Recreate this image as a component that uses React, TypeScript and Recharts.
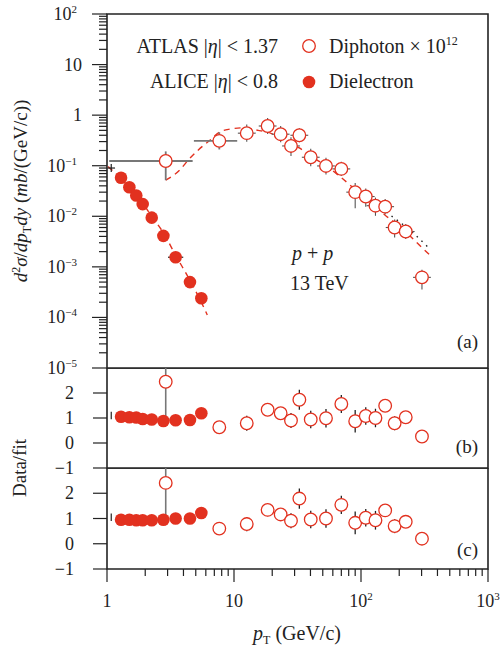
import React from "react";
import { ComposedChart, Scatter, Line, XAxis, YAxis, ErrorBar, ReferenceArea } from "recharts";

const RED = "#e2311f";
const INK = "#222";
const FONT = "'Liberation Serif', 'Times New Roman', serif";

// ALICE dielectron |eta| < 0.8
const dieX = [1.29, 1.5, 1.7, 1.91, 2.25, 2.78, 3.47, 4.5, 5.53];
const dieY = [0.058, 0.0376, 0.0257, 0.0174, 0.0094, 0.0041, 0.00155, 0.0005, 0.00024];
const dieXErr = [0, 0, 0, 0, 0, 0, 0.06, 0, 0]; // in decades
const dieRatioB = [1.05, 1.03, 1.02, 0.96, 0.94, 0.88, 0.91, 0.92, 1.19];
const dieRatioC = [0.95, 0.95, 0.93, 0.93, 0.93, 0.95, 1.0, 1.0, 1.22];
// lowest bin: only the error bars show
const dieEdgeX = [1.08];
const dieEdgeY = [0.09];
const dieEdgeRatioB = [1.1];
const dieEdgeRatioC = [1.05];

// ATLAS diphoton x 1e12, |eta| < 1.37
const phoX = [2.9, 7.66, 12.6, 18.4, 23.3, 28.1, 32.7, 40.2, 53, 70, 90, 109, 130, 155, 184, 225, 302];
const phoY = [0.124, 0.31, 0.44, 0.61, 0.42, 0.246, 0.4, 0.147, 0.099, 0.0865, 0.03, 0.0246, 0.0162, 0.0155, 0.006, 0.005, 0.00062];
const phoErrUp = [0.19, 0.17, 0.17, 0.16, 0.16, 0.17, 0.14, 0.17, 0.16, 0.14, 0.18, 0.16, 0.16, 0.15, 0.16, 0.15, 0.15];
const phoErrDn = [0.38, 0.17, 0.17, 0.16, 0.16, 0.2, 0.14, 0.18, 0.17, 0.14, 0.32, 0.2, 0.2, 0.15, 0.2, 0.15, 0.24];
const phoXLo = [0.445, 0.2, 0.07, 0.07, 0.07, 0.07, 0.07, 0.07, 0.07, 0.07, 0.07, 0.07, 0.07, 0.07, 0.07, 0.07, 0.07];
const phoXHi = [0.212, 0.141, 0.07, 0.07, 0.07, 0.07, 0.07, 0.07, 0.07, 0.07, 0.07, 0.07, 0.07, 0.07, 0.07, 0.07, 0.07];
const phoRatioB = [2.45, 0.63, 0.79, 1.33, 1.19, 0.9, 1.73, 0.94, 0.99, 1.56, 0.87, 1.08, 1.0, 1.49, 0.79, 1.03, 0.26];
const phoRatioC = [2.41, 0.6, 0.78, 1.34, 1.16, 0.91, 1.79, 0.96, 1.0, 1.54, 0.83, 1.03, 0.93, 1.32, 0.7, 0.87, 0.2];
const phoRatioErrB = [1.51, 0.12, 0.3, 0.25, 0.22, 0.3, 0.4, 0.35, 0.37, 0.36, 0.45, 0.35, 0.37, 0.25, 0.28, 0.12, 0.1];
const phoRatioErrC = [1.34, 0.12, 0.28, 0.25, 0.22, 0.3, 0.4, 0.35, 0.37, 0.36, 0.45, 0.35, 0.37, 0.25, 0.28, 0.12, 0.1];

// fits
const dieFitX = [1.02, 1.29, 1.5, 1.7, 1.91, 2.25, 2.78, 3.47, 4.5, 5.53, 6.16];
const dieFitY = [0.096, 0.055, 0.0365, 0.0252, 0.018, 0.01, 0.0047, 0.0017, 0.00054, 0.0002, 0.000112];
const phoFitX = [2.9, 3.76, 4.37, 5.24, 6.47, 7.66, 9.3, 11.8, 15.5, 18.4, 23.3, 28, 32.7, 40, 53, 70, 90, 109, 130, 155, 184, 225, 302, 349];
const phoFitY = [0.052, 0.083, 0.13, 0.205, 0.32, 0.46, 0.53, 0.56, 0.5, 0.46, 0.35, 0.27, 0.225, 0.156, 0.1, 0.058, 0.034, 0.023, 0.016, 0.0105, 0.0076, 0.0049, 0.0024, 0.0017];
const altFitX = [109, 169, 250, 340];
const altFitY = [0.025, 0.0107, 0.005, 0.0024];

const xMajor = [1, 10, 100, 1000];
const yMajor = [1e-5, 1e-4, 1e-3, 1e-2, 0.1, 1, 10, 100];
const ratioTicks = [-1, 0, 1, 2];

const minorsOf = (majors: number[]) => {
  const out: number[] = [];
  majors.forEach((m, i) => {
    out.push(m);
    if (i < majors.length - 1) for (let k = 2; k < 10; k++) out.push(m * k);
  });
  return out;
};
const xTicks = minorsOf(xMajor);
const yTicks = minorsOf(yMajor);

const decErr = (v: number, up: number, dn: number) => [v - v / Math.pow(10, dn), v * Math.pow(10, up) - v];
const isMajor = (v: number) => Math.abs(Math.log10(v) - Math.round(Math.log10(v))) < 1e-6;
const expText = (e: number) => (e < 0 ? "\u2212" + -e : String(e));

const dieTop = dieX.map((x, i) => ({ x, y: dieY[i], ex: decErr(x, dieXErr[i], dieXErr[i]) }));
const dieEdgeTop = dieEdgeX.map((x, i) => ({ x, y: dieEdgeY[i], ex: decErr(x, 0.03, 0.03), ey: decErr(dieEdgeY[i], 0.08, 0.08) }));
const phoTop = phoX.map((x, i) => ({
  x,
  y: phoY[i],
  ey: decErr(phoY[i], phoErrUp[i], phoErrDn[i]),
  ex: decErr(x, phoXHi[i], phoXLo[i]),
}));
const toFit = (xs: number[], ys: number[]) => xs.map((x, i) => ({ x, y: ys[i] }));
const ratioRows = (xs: number[], r: number[], e: number[] | null) =>
  xs.map((x, i) => ({ x, y: r[i], ey: e ? [e[i], Math.min(e[i], 3 - r[i])] : [0, 0] }));

const openDot = (p: any) => <circle cx={p.cx} cy={p.cy} r={6.3} fill="#fff" stroke={RED} strokeWidth={1.3} />;
const fullDot = (p: any) => <circle cx={p.cx} cy={p.cy} r={6.3} fill={RED} />;
const noDot = () => <g />;

function LogYTick(props: any) {
  const { x, y, payload } = props;
  const v = payload.value;
  const major = isMajor(v);
  const e = Math.round(Math.log10(v));
  return (
    <g>
      <line x1={x - (major ? 15 : 8)} x2={x} y1={y} y2={y} stroke={INK} strokeWidth={1.2} />
      {major && (
        <text x={e === 0 || e === 1 ? x - 25 : x - 30} y={y + 6} textAnchor="end" fontFamily={FONT} fontSize={18} fill={INK}>
          {"10".slice(0, e === 0 ? 1 : 2)}
          {e !== 0 && e !== 1 && (
            <tspan dy={-7} fontSize={11}>
              {expText(e)}
            </tspan>
          )}
        </text>
      )}
    </g>
  );
}

function RatioYTick(props: any) {
  const { x, y, payload } = props;
  const v = payload.value;
  return (
    <g>
      <line x1={x - 14} x2={x} y1={y} y2={y} stroke={INK} strokeWidth={1.2} />
      <text x={x - 33} y={y + 6} textAnchor="end" fontFamily={FONT} fontSize={18} fill={INK}>
        {v < 0 ? "\u2212" + -v : String(v)}
      </text>
    </g>
  );
}

function LogXTick(props: any) {
  const { x, y, payload } = props;
  const v = payload.value;
  const major = isMajor(v);
  const e = Math.round(Math.log10(v));
  return (
    <g>
      <line x1={x} x2={x} y1={y} y2={y + (major ? 13 : 7)} stroke={INK} strokeWidth={1.2} />
      {major && (
        <text x={x} y={y + 38} textAnchor="middle" fontFamily={FONT} fontSize={18} fill={INK}>
          {e === 0 ? "1" : "10"}
          {e > 1 && (
            <tspan dy={-7} fontSize={11}>
              {expText(e)}
            </tspan>
          )}
        </text>
      )}
    </g>
  );
}

const xAxisProps = {
  dataKey: "x",
  type: "number" as const,
  scale: "log" as const,
  domain: [1, 1000],
  allowDataOverflow: true,
  ticks: xTicks,
  interval: 0 as const,
};

function RatioPanel({ top, ratioDie, ratioPho, errPho, edge, showX }: any) {
  // extra bottom room so the lowest tick label is not cut
  const height = showX ? 180 : 114;
  const phoRows = ratioRows(phoX, ratioPho, errPho);
  const dieRows = ratioRows(dieX, ratioDie, null);
  const edgeRows = ratioRows(dieEdgeX, edge, [0.15]);
  return (
    <div style={{ position: "absolute", left: 0, top }}>
      <ComposedChart width={500} height={height} margin={{ top: 0, right: 12, bottom: showX ? 0 : 14, left: 0 }}>
        <XAxis
          {...xAxisProps}
          hide={!showX}
          height={showX ? 79 : 0}
          axisLine={false}
          tickLine={false}
          tickSize={0}
          tickMargin={0}
          tick={<LogXTick />}
        />
        <YAxis
          dataKey="y"
          type="number"
          domain={[-1, 3]}
          ticks={ratioTicks}
          interval={0}
          allowDataOverflow
          width={107}
          axisLine={false}
          tickLine={false}
          tickSize={0}
          tickMargin={0}
          tick={<RatioYTick />}
        />
        <ReferenceArea x1={1} x2={1000} y1={-1} y2={3} fill="none" stroke={INK} strokeWidth={1.6} ifOverflow="visible" />
        <Scatter data={edgeRows} shape={noDot} isAnimationActive={false}>
          <ErrorBar dataKey="ey" direction="y" width={0} stroke={INK} strokeWidth={1.2} isAnimationActive={false} />
        </Scatter>
        <Scatter data={phoRows.slice(0, 1)} shape={openDot} isAnimationActive={false}>
          <ErrorBar dataKey="ey" direction="y" width={0} stroke="#777" strokeWidth={1.6} isAnimationActive={false} />
        </Scatter>
        <Scatter data={phoRows.slice(1)} shape={openDot} isAnimationActive={false}>
          <ErrorBar dataKey="ey" direction="y" width={0} stroke={INK} strokeWidth={1.3} isAnimationActive={false} />
        </Scatter>
        <Scatter data={dieRows} shape={fullDot} isAnimationActive={false} />
      </ComposedChart>
    </div>
  );
}

function TopPanel() {
  return (
    <div style={{ position: "absolute", left: 0, top: 0 }}>
      <ComposedChart width={500} height={382} margin={{ top: 14, right: 12, bottom: 14, left: 0 }}>
        <XAxis {...xAxisProps} hide height={0} />
        <YAxis
          dataKey="y"
          type="number"
          scale="log"
          domain={[1e-5, 100]}
          ticks={yTicks}
          interval={0}
          allowDataOverflow
          width={107}
          axisLine={false}
          tickLine={false}
          tickSize={0}
          tickMargin={0}
          tick={<LogYTick />}
        />
        <ReferenceArea x1={1} x2={1000} y1={1e-5} y2={100} fill="none" stroke={INK} strokeWidth={1.6} ifOverflow="visible" />
        <Line data={toFit(dieFitX, dieFitY)} dataKey="y" type="monotone" stroke={RED} strokeWidth={1.4} strokeDasharray="6 5" dot={false} isAnimationActive={false} />
        <Line data={toFit(phoFitX, phoFitY)} dataKey="y" type="monotone" stroke={RED} strokeWidth={1.4} strokeDasharray="6 5" dot={false} isAnimationActive={false} />
        <Line data={toFit(altFitX, altFitY)} dataKey="y" type="monotone" stroke={INK} strokeWidth={1.4} strokeDasharray="1.5 5" dot={false} isAnimationActive={false} />
        <Scatter data={dieEdgeTop} shape={noDot} isAnimationActive={false}>
          <ErrorBar dataKey="ey" direction="y" width={0} stroke={INK} strokeWidth={1.2} isAnimationActive={false} />
          <ErrorBar dataKey="ex" direction="x" width={0} stroke={INK} strokeWidth={1.2} isAnimationActive={false} />
        </Scatter>
        <Scatter data={phoTop.slice(0, 2)} shape={openDot} isAnimationActive={false}>
          <ErrorBar dataKey="ey" direction="y" width={0} stroke="#777" strokeWidth={1.8} isAnimationActive={false} />
          <ErrorBar dataKey="ex" direction="x" width={0} stroke="#777" strokeWidth={1.8} isAnimationActive={false} />
        </Scatter>
        <Scatter data={phoTop.slice(2)} shape={openDot} isAnimationActive={false}>
          <ErrorBar dataKey="ey" direction="y" width={0} stroke="#555" strokeWidth={1.1} isAnimationActive={false} />
          <ErrorBar dataKey="ex" direction="x" width={0} stroke="#555" strokeWidth={1.1} isAnimationActive={false} />
        </Scatter>
        <Scatter data={dieTop} shape={fullDot} isAnimationActive={false}>
          <ErrorBar dataKey="ex" direction="x" width={0} stroke={INK} strokeWidth={1.2} isAnimationActive={false} />
        </Scatter>
      </ComposedChart>
    </div>
  );
}

function Labels() {
  const t = { fontFamily: FONT, fill: INK };
  return (
    <svg width={500} height={648} style={{ position: "absolute", left: 0, top: 0, pointerEvents: "none" }}>
      <text x={278} y={53} textAnchor="end" fontSize={20} {...t}>
        ATLAS |<tspan fontStyle="italic">η</tspan>| &lt; 1.37
      </text>
      <text x={278} y={88} textAnchor="end" fontSize={20} {...t}>
        ALICE |<tspan fontStyle="italic">η</tspan>| &lt; 0.8
      </text>
      <circle cx={309} cy={46} r={6.3} fill="#fff" stroke={RED} strokeWidth={1.3} />
      <circle cx={309} cy={82} r={6.3} fill={RED} />
      <text x={329} y={53} fontSize={20} {...t}>
        Diphoton × 10
        <tspan dy={-8} fontSize={12}>
          12
        </tspan>
      </text>
      <text x={329} y={88} fontSize={20} {...t}>
        Dielectron
      </text>
      <text x={292} y={260} fontSize={20} {...t}>
        <tspan fontStyle="italic">p</tspan> + <tspan fontStyle="italic">p</tspan>
      </text>
      <text x={290} y={290} fontSize={20} {...t}>
        13 TeV
      </text>
      <text x={478} y={348} textAnchor="end" fontSize={19} {...t}>
        (a)
      </text>
      <text x={478} y={453} textAnchor="end" fontSize={19} {...t}>
        (b)
      </text>
      <text x={478} y={556} textAnchor="end" fontSize={19} {...t}>
        (c)
      </text>
      <text transform="translate(27,191) rotate(-90)" textAnchor="middle" fontSize={19} {...t}>
        <tspan fontStyle="italic">d</tspan>
        <tspan dy={-7} fontSize={12}>
          2
        </tspan>
        <tspan dy={7} fontStyle="italic">
          σ
        </tspan>
        /<tspan fontStyle="italic">dp</tspan>
        <tspan dy={4} fontSize={12}>
          T
        </tspan>
        <tspan dy={-4} fontStyle="italic">
          dy
        </tspan>{" "}
        (<tspan fontStyle="italic">mb</tspan>/(GeV/c))
      </text>
      <text transform="translate(26,468) rotate(-90)" textAnchor="middle" fontSize={19} {...t}>
        Data/fit
      </text>
      <text x={297} y={640} textAnchor="middle" fontSize={20} {...t}>
        <tspan fontStyle="italic">p</tspan>
        <tspan dy={4} fontSize={12}>
          T
        </tspan>
        <tspan dy={-4}> (GeV/c)</tspan>
      </text>
    </svg>
  );
}

export default function App() {
  return (
    <div style={{ position: "absolute", left: 0, top: 0, width: 500, height: 648, background: "#fff" }}>
      <TopPanel />
      <RatioPanel top={368} ratioDie={dieRatioB} ratioPho={phoRatioB} errPho={phoRatioErrB} edge={dieEdgeRatioB} showX={false} />
      <RatioPanel top={468} ratioDie={dieRatioC} ratioPho={phoRatioC} errPho={phoRatioErrC} edge={dieEdgeRatioC} showX />
      <Labels />
    </div>
  );
}
